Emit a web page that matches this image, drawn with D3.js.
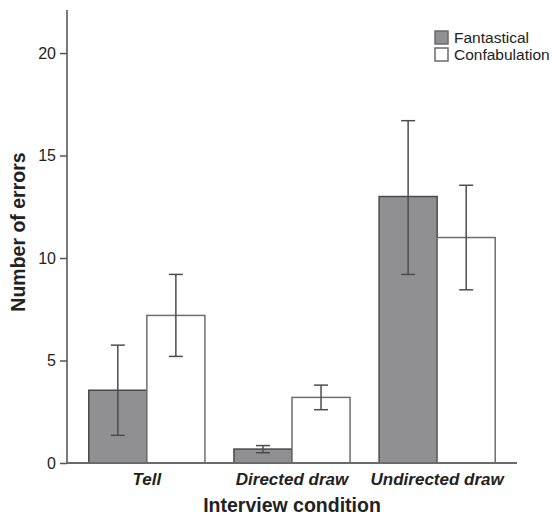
<!DOCTYPE html>
<html>
<head>
<meta charset="utf-8">
<script src="https://cdn.jsdelivr.net/npm/d3@7"></script>
<style>
  body { margin: 0; background: #fff; }
  text { font-family: "Liberation Sans", Arial, sans-serif; }
</style>
</head>
<body>
<div class="canvas"></div>
<script>
// chart data
const conditions = ['Tell', 'Directed draw', 'Undirected draw'];
const seriesNames = ['Fantastical', 'Confabulation'];
const fantastical = [3.55, 0.68, 13.0];
const fantasticalLow = [1.35, 0.5, 9.2];
const fantasticalHigh = [5.75, 0.85, 16.7];
const confabulation = [7.2, 3.2, 11.0];
const confabulationLow = [5.2, 2.6, 8.45];
const confabulationHigh = [9.2, 3.8, 13.55];
const yTicks = [0, 5, 10, 15, 20];

const width = 552, height = 515;
const margin = { top: 10, right: 35, bottom: 52, left: 67 };
const graphWidth = width - margin.left - margin.right;
const graphHeight = height - margin.top - margin.bottom;

const svg = d3.select('.canvas')
  .append('svg')
  .attr('width', width)
  .attr('height', height);

const graph = svg.append('g')
  .attr('transform', `translate(${margin.left}, ${margin.top})`);

const x = d3.scaleBand()
  .domain(conditions)
  .range([0, graphWidth])
  .paddingInner(0.2)
  .paddingOuter(0.15);

const xSub = d3.scaleBand()
  .domain(seriesNames)
  .range([0, x.bandwidth()]);

const y = d3.scaleLinear()
  .domain([0, 22.1])
  .range([graphHeight, 0]);

const colour = d3.scaleOrdinal()
  .domain(seriesNames)
  .range(['#909093', '#ffffff']);

const rows = [];
conditions.forEach((c, i) => {
  rows.push({ cond: c, series: 'Fantastical', value: fantastical[i], lo: fantasticalLow[i], hi: fantasticalHigh[i] });
  rows.push({ cond: c, series: 'Confabulation', value: confabulation[i], lo: confabulationLow[i], hi: confabulationHigh[i] });
});

// bars
graph.selectAll('rect.bar')
  .data(rows)
  .enter()
  .append('rect')
  .attr('class', 'bar')
  .attr('x', d => x(d.cond) + xSub(d.series))
  .attr('y', d => y(d.value))
  .attr('width', xSub.bandwidth())
  .attr('height', d => graphHeight - y(d.value))
  .attr('fill', d => colour(d.series))
  .attr('stroke', d => d.series === 'Fantastical' ? '#4a4a4a' : '#6e6e6e')
  .attr('stroke-width', 1.5);

// error bars
const capHalf = 7;
const err = graph.selectAll('g.err')
  .data(rows)
  .enter()
  .append('g')
  .attr('class', 'err')
  .attr('stroke', '#4d4d4d')
  .attr('stroke-width', 1.5);

err.append('line')
  .attr('x1', d => x(d.cond) + xSub(d.series) + xSub.bandwidth() / 2)
  .attr('x2', d => x(d.cond) + xSub(d.series) + xSub.bandwidth() / 2)
  .attr('y1', d => y(d.lo))
  .attr('y2', d => y(d.hi));

['lo', 'hi'].forEach(k => {
  err.append('line')
    .attr('x1', d => x(d.cond) + xSub(d.series) + xSub.bandwidth() / 2 - capHalf)
    .attr('x2', d => x(d.cond) + xSub(d.series) + xSub.bandwidth() / 2 + capHalf)
    .attr('y1', d => y(d[k]))
    .attr('y2', d => y(d[k]));
});

// axes
const yAxis = d3.axisLeft(y)
  .tickValues(yTicks)
  .tickSize(7)
  .tickPadding(4)
  .tickFormat(d3.format('d'));

const yAxisGroup = graph.append('g').call(yAxis);
yAxisGroup.select('.domain').attr('stroke', '#7a7a7a').attr('stroke-width', 2)
  .attr('d', `M0,${graphHeight}V0`);
yAxisGroup.selectAll('.tick line').attr('stroke', '#555').attr('stroke-width', 1.5);
yAxisGroup.selectAll('.tick text')
  .attr('font-size', 16)
  .attr('fill', '#222')
  .style('font-family', '"Liberation Sans", Arial, sans-serif');

const xAxisGroup = graph.append('g')
  .attr('transform', `translate(0, ${graphHeight})`)
  .call(d3.axisBottom(x).tickSize(0).tickPadding(10));
xAxisGroup.select('.domain').attr('stroke', '#6a6a6a').attr('stroke-width', 2)
  .attr('d', `M0,0H${graphWidth}`);
xAxisGroup.selectAll('.tick text')
  .attr('font-size', 17)
  .attr('font-weight', 'bold')
  .attr('font-style', 'italic')
  .attr('fill', '#222')
  .style('font-family', '"Liberation Sans", Arial, sans-serif');

// axis titles
svg.append('text')
  .attr('x', margin.left + graphWidth / 2)
  .attr('y', 512)
  .attr('text-anchor', 'middle')
  .attr('font-size', 19.5)
  .attr('font-weight', 'bold')
  .attr('fill', '#222')
  .text('Interview condition');

svg.append('text')
  .attr('transform', `translate(25, 232) rotate(-90)`)
  .attr('text-anchor', 'middle')
  .attr('font-size', 19.5)
  .attr('font-weight', 'bold')
  .attr('fill', '#222')
  .text('Number of errors');

// legend
const legend = svg.selectAll('.legend')
  .data(seriesNames)
  .enter()
  .append('g')
  .attr('class', 'legend')
  .attr('transform', (d, i) => `translate(435, ${31 + i * 17})`);

legend.append('rect')
  .attr('width', 13)
  .attr('height', 13)
  .attr('fill', colour)
  .attr('stroke', '#6a6a6a')
  .attr('stroke-width', 1.5);

legend.append('text')
  .attr('x', 19)
  .attr('y', 12)
  .attr('font-size', 15.5)
  .attr('fill', '#222')
  .text(d => d);
</script>
</body>
</html>
